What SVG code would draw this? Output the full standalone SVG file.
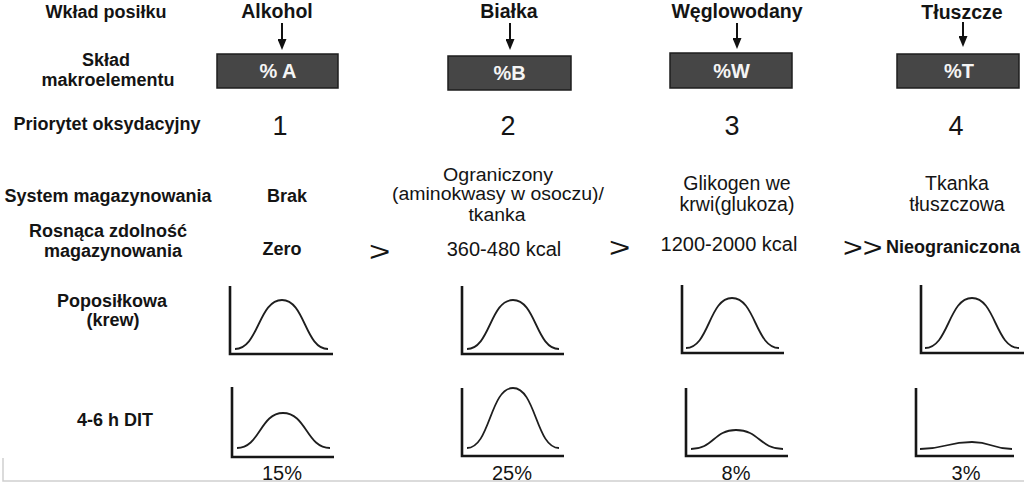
<svg xmlns="http://www.w3.org/2000/svg" width="1024" height="482" viewBox="0 0 1024 482">
<style>
text{font-family:"Liberation Sans",Arial,sans-serif;fill:#141414}
.lbl{font-size:18px;font-weight:bold;text-anchor:middle}
.hdr{font-size:19.5px;font-weight:bold;text-anchor:middle}
.boxt{font-size:20px;font-weight:bold;text-anchor:middle;fill:#f4f4f4}
.num{font-size:27px;text-anchor:middle}
.val{font-size:19.5px;text-anchor:middle}
.val2{font-size:18px;text-anchor:middle}
.cap{font-size:20px;text-anchor:middle}
.bval{font-size:18px;font-weight:bold;text-anchor:middle}
.gt{font-size:27px}
.box{fill:#464646;stroke:#1e1e1e;stroke-width:1.5}
.axis{fill:none;stroke:#161616;stroke-width:2.6}
.curve{fill:none;stroke:#1e1e1e;stroke-width:1.8}
.arr{stroke:#111;stroke-width:2;marker-end:url(#ah)}
</style>
<defs>
<marker id="ah" viewBox="0 0 11 9" refX="0" refY="4.5" markerWidth="11" markerHeight="9" orient="auto" markerUnits="userSpaceOnUse">
<path d="M0,0 L11,4.5 L0,9 z" fill="#111"/>
</marker>
</defs>
<rect x="0" y="0" width="1024" height="482" fill="#ffffff"/>

<g id="row-labels">
<text class="lbl" x="106" y="18">Wkład posiłku</text>
<text class="lbl" x="106" y="66">Skład</text>
<text class="lbl" x="108" y="86">makroelementu</text>
<text class="lbl" x="107" y="130">Priorytet oksydacyjny</text>
<text class="lbl" x="108" y="202">System magazynowania</text>
<text class="lbl" x="108" y="237">Rosnąca zdolność</text>
<text class="lbl" x="113" y="257">magazynowania</text>
<text class="lbl" x="112" y="307">Poposiłkowa</text>
<text class="lbl" x="113" y="326">(krew)</text>
<text class="lbl" x="115" y="426">4-6 h DIT</text>
</g>

<g id="col-alkohol">
<text class="hdr" x="277" y="18">Alkohol</text>
<rect class="box" x="217" y="54" width="121" height="34"/>
<text class="boxt" x="278" y="78">% A</text>
<text class="num" x="280" y="135">1</text>
<text class="bval" x="287" y="202">Brak</text>
<text class="bval" x="282" y="255">Zero</text>
<path class="axis" d="M230,286 V354 H333"/>
<path class="curve" d="M235,349 C258.5,349 258.5,300 282,300 C305,300 305,349 328,349"/>
<path class="axis" d="M232,387 V457 H334"/>
<path class="curve" d="M237,448 C260,448 260,413 283,413 C306.5,413 306.5,448 330,448"/>
<text class="cap" x="282" y="480">15%</text>
</g>

<g id="col-bialka">
<text class="hdr" x="509" y="18">Białka</text>
<rect class="box" x="448" y="56" width="123" height="34"/>
<text class="boxt" x="509.5" y="80">%B</text>
<text class="num" x="508" y="135">2</text>
<text class="val2" x="498" y="181" textLength="110" lengthAdjust="spacingAndGlyphs">Ograniczony</text>
<text class="val2" x="498" y="200" textLength="212" lengthAdjust="spacingAndGlyphs">(aminokwasy w osoczu)/</text>
<text class="val2" x="497" y="221" textLength="57" lengthAdjust="spacingAndGlyphs">tkanka</text>
<text class="cap" x="504" y="256">360-480 kcal</text>
<path class="axis" d="M462,286 V354 H564"/>
<path class="curve" d="M467,349 C490,349 490,300 513,300 C536,300 536,349 559,349"/>
<path class="axis" d="M462,388 V456 H564"/>
<path class="curve" d="M467,448 C490,448 490,388 513,388 C536,388 536,448 559,448"/>
<text class="cap" x="512" y="480">25%</text>
</g>

<g id="col-weglowodany">
<text class="hdr" x="737" y="18">Węglowodany</text>
<rect class="box" x="670" y="53" width="122" height="35"/>
<text class="boxt" x="731.5" y="78">%W</text>
<text class="num" x="732" y="135">3</text>
<text class="val" x="737" y="190">Glikogen we</text>
<text class="val" x="737" y="211">krwi(glukoza)</text>
<text class="cap" x="729" y="251">1200-2000 kcal</text>
<path class="axis" d="M682,285 V353 H784"/>
<path class="curve" d="M686,348 C709,348 709,298 732,298 C755.5,298 755.5,348 779,348"/>
<path class="axis" d="M686,388 V456 H788"/>
<path class="curve" d="M691,449 C713.5,449 713.5,430 736,430 C759.5,430 759.5,449 783,449"/>
<text class="cap" x="736" y="480">8%</text>
</g>

<g id="col-tluszcze">
<text class="hdr" x="962" y="19">Tłuszcze</text>
<rect class="box" x="897" y="54" width="122" height="34"/>
<text class="boxt" x="959" y="78">%T</text>
<text class="num" x="956" y="135">4</text>
<text class="val" x="957" y="190">Tkanka</text>
<text class="val" x="957" y="211">tłuszczowa</text>
<text class="bval" x="953" y="253">Nieograniczona</text>
<path class="axis" d="M921,285 V353 H1026"/>
<path class="curve" d="M925,348 C948.5,348 948.5,298 972,298 C995.5,298 995.5,348 1019,348"/>
<path class="axis" d="M916,388 V456 H1014"/>
<path class="curve" d="M920,449 C946,449 946,442 972,442 C992,442 992,449 1012,449"/>
<text class="cap" x="966" y="480">3%</text>
</g>

<g id="comparators">
<text class="gt" transform="translate(369,261) scale(1.35,1)">&gt;</text>
<text class="gt" transform="translate(609,257) scale(1.35,1)">&gt;</text>
<text class="gt" transform="translate(843,257) scale(1.25,1)">&gt;&gt;</text>
</g>

<g id="connectors">
<line class="arr" x1="282" y1="23" x2="282" y2="39"/>
<line class="arr" x1="510" y1="23" x2="510" y2="39"/>
<line class="arr" x1="737" y1="23" x2="737" y2="38"/>
<line class="arr" x1="963" y1="22" x2="963" y2="36"/>
</g>

<g id="frame">
<path d="M3,458 V481 H1024" fill="none" stroke="#cfcfcf" stroke-width="1.5"/>
</g>
</svg>
